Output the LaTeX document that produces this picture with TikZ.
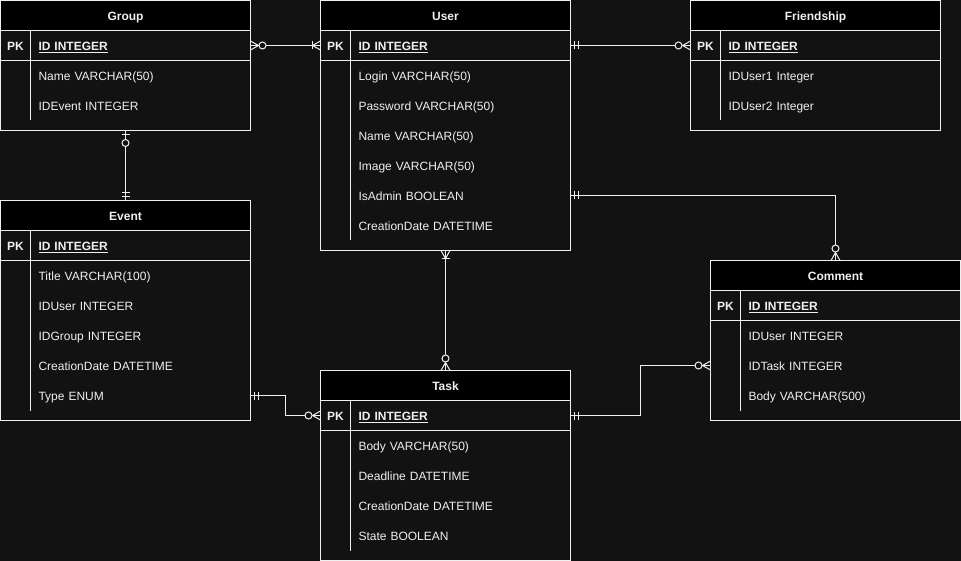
\documentclass[tikz,border=0pt]{standalone}
\usepackage{fontspec}
\setmainfont{Liberation Sans}
\usetikzlibrary{positioning, decorations.markings}
\definecolor{bg}{HTML}{121212}
\definecolor{fg}{HTML}{F0F0F0}

\begin{document}
\fontsize{12pt}{14pt}\selectfont
\begin{tikzpicture}[x=1pt, y=-1pt, color=fg, line width=1pt,
    every node/.style={outer sep=0pt, text height=10pt, text depth=0pt},
    tbl/.style={draw, fill=bg, minimum width=250pt, inner sep=0pt, anchor=north west},
    tblhead/.style={draw, fill=black, minimum width=250pt, minimum height=30pt, inner sep=0pt, anchor=north, font=\bfseries},
    pkcell/.style={minimum width=30pt, minimum height=30pt, inner sep=0pt, anchor=north west, font=\bfseries},
    field/.style={minimum width=220pt, text width=204pt, minimum height=30pt, inner xsep=8pt, inner ysep=0pt, align=left},
    keyfield/.style={field, anchor=north east, font=\bfseries},
    mk/.style 2 args={postaction={decorate, decoration={markings, mark=at position #1 with {\begin{scope}[xscale=2*#1-1]#2\end{scope}}}}},
    zmany/.style={mk={#1}{\draw (-8pt,0pt) -- (0pt,4.5pt) (-8pt,0pt) -- (0pt,-4.5pt); \draw[fill=bg] (-12pt,0pt) circle[radius=3.5pt];}},
    omany/.style={mk={#1}{\draw (-8pt,0pt) -- (0pt,4.5pt) (-8pt,0pt) -- (0pt,-4.5pt); \draw (-8pt,-4pt) -- (-8pt,4pt);}},
    mone/.style={mk={#1}{\draw (-4pt,-4pt) -- (-4pt,4pt) (-8pt,-4pt) -- (-8pt,4pt);}},
    zone/.style={mk={#1}{\draw (-4pt,-4pt) -- (-4pt,4pt); \draw[fill=bg] (-12.5pt,0pt) circle[radius=3.5pt];}},
  ]
  \fill[bg, use as bounding box] (-0.5,-0.5) rectangle (960.5,560.5);

  % Group
  \node[tbl, minimum height=130pt] (group) at (0,0) {};
  \node[tblhead, below=0pt of group.north] (group-t) {Group};
  \node[pkcell] (group-k) at (group-t.south west) {PK};
  \node[keyfield] (group-0) at (group-t.south east) {\underline{ID INTEGER}};
  \foreach \f [count=\i, remember=\i as \j (initially 0)] in {{Name VARCHAR(50)}, {IDEvent INTEGER}}
    \node[field, below=0pt of group-\j] (group-\i) {\f};
  \draw (group-k.north east) -- (group-k.north east |- group-2.south);
  \draw (group-k.south west) -- (group-0.south east);

  % User
  \node[tbl, minimum height=250pt] (user) at (320,0) {};
  \node[tblhead, below=0pt of user.north] (user-t) {User};
  \node[pkcell] (user-k) at (user-t.south west) {PK};
  \node[keyfield] (user-0) at (user-t.south east) {\underline{ID INTEGER}};
  \foreach \f [count=\i, remember=\i as \j (initially 0)] in {{Login VARCHAR(50)}, {Password VARCHAR(50)}, {Name VARCHAR(50)}, {Image VARCHAR(50)}, {IsAdmin BOOLEAN}, {CreationDate DATETIME}}
    \node[field, below=0pt of user-\j] (user-\i) {\f};
  \draw (user-k.north east) -- (user-k.north east |- user-6.south);
  \draw (user-k.south west) -- (user-0.south east);

  % Friendship
  \node[tbl, minimum height=130pt] (friend) at (690,0) {};
  \node[tblhead, below=0pt of friend.north] (friend-t) {Friendship};
  \node[pkcell] (friend-k) at (friend-t.south west) {PK};
  \node[keyfield] (friend-0) at (friend-t.south east) {\underline{ID INTEGER}};
  \foreach \f [count=\i, remember=\i as \j (initially 0)] in {{IDUser1 Integer}, {IDUser2 Integer}}
    \node[field, below=0pt of friend-\j] (friend-\i) {\f};
  \draw (friend-k.north east) -- (friend-k.north east |- friend-2.south);
  \draw (friend-k.south west) -- (friend-0.south east);

  % Event
  \node[tbl, minimum height=220pt] (event) at (0,200) {};
  \node[tblhead, below=0pt of event.north] (event-t) {Event};
  \node[pkcell] (event-k) at (event-t.south west) {PK};
  \node[keyfield] (event-0) at (event-t.south east) {\underline{ID INTEGER}};
  \foreach \f [count=\i, remember=\i as \j (initially 0)] in {{Title VARCHAR(100)}, {IDUser INTEGER}, {IDGroup INTEGER}, {CreationDate DATETIME}, {Type ENUM}}
    \node[field, below=0pt of event-\j] (event-\i) {\f};
  \draw (event-k.north east) -- (event-k.north east |- event-5.south);
  \draw (event-k.south west) -- (event-0.south east);

  % Task
  \node[tbl, minimum height=190pt] (task) at (320,370) {};
  \node[tblhead, below=0pt of task.north] (task-t) {Task};
  \node[pkcell] (task-k) at (task-t.south west) {PK};
  \node[keyfield] (task-0) at (task-t.south east) {\underline{ID INTEGER}};
  \foreach \f [count=\i, remember=\i as \j (initially 0)] in {{Body VARCHAR(50)}, {Deadline DATETIME}, {CreationDate DATETIME}, {State BOOLEAN}}
    \node[field, below=0pt of task-\j] (task-\i) {\f};
  \draw (task-k.north east) -- (task-k.north east |- task-4.south);
  \draw (task-k.south west) -- (task-0.south east);

  % Comment
  \node[tbl, minimum height=160pt] (comment) at (710,260) {};
  \node[tblhead, below=0pt of comment.north] (comment-t) {Comment};
  \node[pkcell] (comment-k) at (comment-t.south west) {PK};
  \node[keyfield] (comment-0) at (comment-t.south east) {\underline{ID INTEGER}};
  \foreach \f [count=\i, remember=\i as \j (initially 0)] in {{IDUser INTEGER}, {IDTask INTEGER}, {Body VARCHAR(500)}}
    \node[field, below=0pt of comment-\j] (comment-\i) {\f};
  \draw (comment-k.north east) -- (comment-k.north east |- comment-3.south);
  \draw (comment-k.south west) -- (comment-0.south east);

  % relations
  \draw[zmany=0, omany=1] (group.east |- group-0) -- (user.west |- user-0);
  \draw[mone=0, zmany=1] (user.east |- user-0) -- (friend.west |- friend-0);
  \draw[zone=0, mone=1] (group.south) -- (event.north);
  \draw[omany=0, zmany=1] (user.south) -- (task.north);
  \draw[mone=0, zmany=1] (event.east |- event-5) -- ++(35,0) |- (task.west |- task-0);
  \draw[mone=0, zmany=1] (user.east |- user-5) -| (comment.north);
  \draw[mone=0, zmany=1] (task.east |- task-0) -- ++(70,0) |- (comment.west |- comment-2);
\end{tikzpicture}
\end{document}
